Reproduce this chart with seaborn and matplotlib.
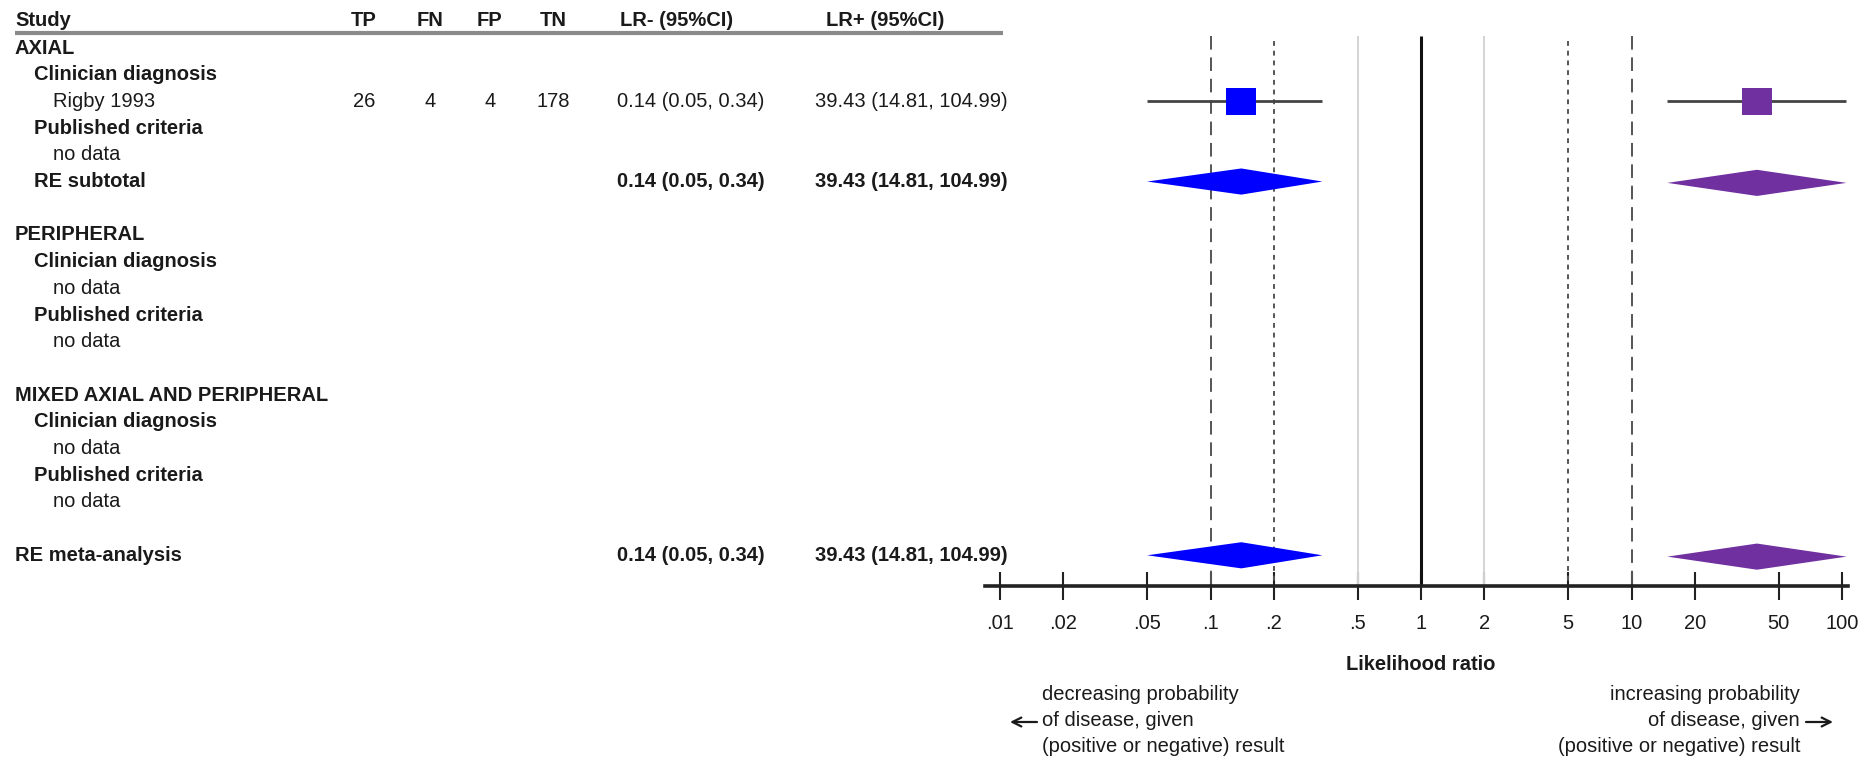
import numpy as np
import pandas as pd
import seaborn as sns
import matplotlib.pyplot as plt
from matplotlib.transforms import blended_transform_factory
from matplotlib.ticker import NullLocator

# table rows, top to bottom
row_labels = ["AXIAL", "Clinician diagnosis", "Rigby 1993", "Published criteria", "no data",
              "RE subtotal", "",
              "PERIPHERAL", "Clinician diagnosis", "no data", "Published criteria", "no data", "",
              "MIXED AXIAL AND PERIPHERAL", "Clinician diagnosis", "no data", "Published criteria",
              "no data", "",
              "RE meta-analysis"]
row_kind = ["group", "sub", "study", "sub", "nodata", "subtotal", "blank",
            "group", "sub", "nodata", "sub", "nodata", "blank",
            "group", "sub", "nodata", "sub", "nodata", "blank",
            "total"]

# study level data
study_names = ["Rigby 1993"]
tp = [26]
fn = [4]
fp = [4]
tn = [178]
lr_neg = [0.14]
lr_neg_lo = [0.05]
lr_neg_hi = [0.34]
lr_pos = [39.43]
lr_pos_lo = [14.81]
lr_pos_hi = [104.99]

# pooled estimates
pooled_names = ["RE subtotal", "RE meta-analysis"]
pool_neg = [0.14, 0.14]
pool_neg_lo = [0.05, 0.05]
pool_neg_hi = [0.34, 0.34]
pool_pos = [39.43, 39.43]
pool_pos_lo = [14.81, 14.81]
pool_pos_hi = [104.99, 104.99]

tick_values = [0.01, 0.02, 0.05, 0.1, 0.2, 0.5, 1, 2, 5, 10, 20, 50, 100]
tick_labels = [".01", ".02", ".05", ".1", ".2", ".5", "1", "2", "5", "10", "20", "50", "100"]

col_headers = ["TP", "FN", "FP", "TN"]

NEG_COL = "#0000FF"
POS_COL = "#7030A0"
TXT = "#1a1a1a"
FS = 14.5

sns.set_style("white")
plt.rcParams['font.family'] = ['Liberation Sans', 'DejaVu Sans']

W, H = 1872, 760
fig = plt.figure(figsize=(W / 100, H / 100), dpi=100)

# forest axes: x is log LR, y is row number (AXIAL = 1)
ax = fig.add_axes([985 / W, 1 - 586 / H, (1848 - 985) / W, 586 / H])

row_y = {i: i + 1 for i in range(len(row_labels))}

# reference lines
ref_lines = [(0.1, (0, (7, 4)), "#555555", 1.4, 0.55),
             (0.2, (0, (2.5, 2.5)), "#555555", 1.4, 0.75),
             (0.5, "-", "#d4d4d4", 1.4, 0.55),
             (1, "-", "#111111", 2.2, 0.55),
             (2, "-", "#d4d4d4", 1.4, 0.55),
             (5, (0, (2.5, 2.5)), "#555555", 1.4, 0.75),
             (10, (0, (7, 4)), "#555555", 1.4, 0.55)]
for xv, ls, c, lw, top in ref_lines:
    ax.vlines(xv, top, 21.15, colors=c, linestyles=ls, linewidth=lw, zorder=1)

# study estimates: CI lines and squares
study_rows = [row_y[row_labels.index(n)] for n in study_names]
ax.hlines(study_rows, lr_neg_lo, lr_neg_hi, colors="#444444", linewidth=2, zorder=2)
ax.hlines(study_rows, lr_pos_lo, lr_pos_hi, colors="#444444", linewidth=2, zorder=2)

pts = pd.DataFrame({
    "lr": lr_neg + lr_pos,
    "row": study_rows + study_rows,
    "measure": ["LR-"] * len(lr_neg) + ["LR+"] * len(lr_pos),
})
box = [(-1, -0.87), (1, -0.87), (1, 0.87), (-1, 0.87)]
sns.scatterplot(data=pts, x="lr", y="row", hue="measure",
                palette={"LR-": NEG_COL, "LR+": POS_COL},
                marker=box, s=470, linewidth=0, legend=False, zorder=3, ax=ax)

# pooled diamonds
pool_rows = [row_y[i] for i, k in enumerate(row_kind) if k in ("subtotal", "total")]
for r, e, lo, hi in zip(pool_rows, pool_neg, pool_neg_lo, pool_neg_hi):
    ax.fill([lo, e, hi, e], [r, r - 0.49, r, r + 0.49], color=NEG_COL, lw=0, zorder=3)
for r, e, lo, hi in zip(pool_rows, pool_pos, pool_pos_lo, pool_pos_hi):
    ax.fill([lo, e, hi, e], [r + 0.05, r - 0.44, r + 0.05, r + 0.54], color=POS_COL, lw=0, zorder=3)

# axis styling
ax.set_xscale("log")
ax.set_xlim(10 ** -2.0713, 10 ** 2.0285)
ax.set_ylim(21.15, -0.80)
ax.set_xlabel("")
ax.set_ylabel("")
for s in ["top", "right", "left"]:
    ax.spines[s].set_visible(False)
ax.spines["bottom"].set_linewidth(2.6)
ax.spines["bottom"].set_color("#222222")
ax.set_yticks([])
ax.set_xticks(tick_values)
ax.set_xticklabels(tick_labels)
ax.xaxis.set_minor_locator(NullLocator())
ax.tick_params(axis="x", bottom=True, direction="inout", length=20, width=1.5, color="#222222",
               labelsize=FS, labelcolor=TXT, pad=10)
ax.patch.set_alpha(0)

fig.text(1421 / W, 1 - 665 / H, "Likelihood ratio", ha="center", va="center",
         fontsize=FS, fontweight="bold", color=TXT)

# table text
tr = blended_transform_factory(fig.transFigure, ax.transData)
hdr_y = -0.02
fig_x = lambda px: px / W
ax.text(fig_x(15), hdr_y, "Study", transform=tr, ha="left", va="center",
        fontsize=FS, fontweight="bold", color=TXT, clip_on=False)
for h, xp in zip(col_headers, [364, 430, 490, 553]):
    ax.text(fig_x(xp), hdr_y, h, transform=tr, ha="center", va="center",
            fontsize=FS, fontweight="bold", color=TXT, clip_on=False)
ax.text(fig_x(620), hdr_y, "LR- (95%CI)", transform=tr, ha="left", va="center",
        fontsize=FS, fontweight="bold", color=TXT, clip_on=False)
ax.text(fig_x(826), hdr_y, "LR+ (95%CI)", transform=tr, ha="left", va="center",
        fontsize=FS, fontweight="bold", color=TXT, clip_on=False)
ax.plot([fig_x(15), fig_x(1003)], [0.42, 0.42], transform=tr, color="#8a8a8a",
        lw=3, clip_on=False, solid_capstyle="butt")

indent = {"group": 15, "total": 15, "sub": 34, "subtotal": 34, "study": 53, "nodata": 53}
for i, (lab, kind) in enumerate(zip(row_labels, row_kind)):
    if kind == "blank":
        continue
    bold = kind in ("group", "total", "sub", "subtotal")
    ax.text(fig_x(indent[kind]), row_y[i], lab, transform=tr, ha="left", va="center",
            fontsize=FS, fontweight="bold" if bold else "normal", color=TXT, clip_on=False)

for j, n in enumerate(study_names):
    r = row_y[row_labels.index(n)]
    for v, xp in zip([tp[j], fn[j], fp[j], tn[j]], [364, 430, 490, 553]):
        ax.text(fig_x(xp), r, str(v), transform=tr, ha="center", va="center",
                fontsize=FS, color=TXT, clip_on=False)
    ax.text(fig_x(617), r, f"{lr_neg[j]:.2f} ({lr_neg_lo[j]:.2f}, {lr_neg_hi[j]:.2f})",
            transform=tr, ha="left", va="center", fontsize=FS, color=TXT, clip_on=False)
    ax.text(fig_x(815), r, f"{lr_pos[j]:.2f} ({lr_pos_lo[j]:.2f}, {lr_pos_hi[j]:.2f})",
            transform=tr, ha="left", va="center", fontsize=FS, color=TXT, clip_on=False)

for j, r in enumerate(pool_rows):
    ax.text(fig_x(617), r, f"{pool_neg[j]:.2f} ({pool_neg_lo[j]:.2f}, {pool_neg_hi[j]:.2f})",
            transform=tr, ha="left", va="center", fontsize=FS, fontweight="bold",
            color=TXT, clip_on=False)
    ax.text(fig_x(815), r, f"{pool_pos[j]:.2f} ({pool_pos_lo[j]:.2f}, {pool_pos_hi[j]:.2f})",
            transform=tr, ha="left", va="center", fontsize=FS, fontweight="bold",
            color=TXT, clip_on=False)

# direction notes under the axis
left_note = ["decreasing probability", "of disease, given", "(positive or negative) result"]
right_note = ["increasing probability", "of disease, given", "(positive or negative) result"]
for k, yy in enumerate([695, 721, 747]):
    fig.text(1042 / W, 1 - yy / H, left_note[k], ha="left", va="center", fontsize=FS, color=TXT)
    fig.text(1800 / W, 1 - yy / H, right_note[k], ha="right", va="center", fontsize=FS, color=TXT)
arrow_kw = dict(arrowstyle="->", lw=1.6, color=TXT, mutation_scale=16, shrinkA=0, shrinkB=0)
fig.add_artist(plt.matplotlib.patches.FancyArrowPatch(
    (1037 / W, 1 - 722 / H), (1010 / W, 1 - 722 / H), transform=fig.transFigure, **arrow_kw))
fig.add_artist(plt.matplotlib.patches.FancyArrowPatch(
    (1806 / W, 1 - 722 / H), (1833 / W, 1 - 722 / H), transform=fig.transFigure, **arrow_kw))

fig.savefig("out.png", dpi=100)
